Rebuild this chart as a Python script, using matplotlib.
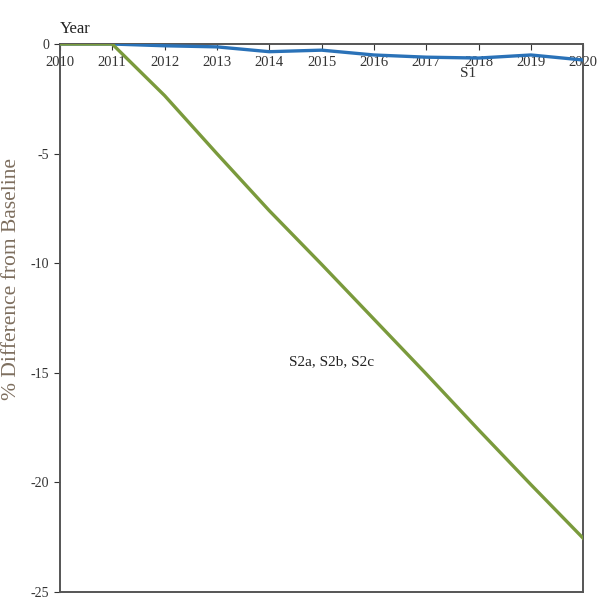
import matplotlib
matplotlib.use("Agg")
import matplotlib.pyplot as plt

years = [2010, 2011, 2012, 2013, 2014, 2015, 2016, 2017, 2018, 2019, 2020]
s1 = [0, 0, -0.08, -0.13, -0.35, -0.28, -0.5, -0.6, -0.64, -0.5, -0.73]
s2 = [0, 0, -2.35, -5.0, -7.6, -10.05, -12.55, -15.05, -17.6, -20.1, -22.55]
yticks = [0, -5, -10, -15, -20, -25]

plt.rcParams['font.family'] = ['Liberation Serif', 'DejaVu Serif']

fig = plt.figure(figsize=(6.05, 6.08), dpi=100)
ax = fig.add_axes([0.099, 0.0263, 0.865, 0.9013])

ax.plot(years, s1, color='#2a72b8', lw=2.4, zorder=3)
ax.plot(years, s2, color='#7a9a3c', lw=2.4, zorder=4)

ax.set_xlim(2010, 2020)
ax.set_ylim(-25, 0)
ax.set_yticks(yticks)
ax.set_yticklabels([str(v) for v in yticks], fontsize=10, color='#333333')
ax.set_xticks(years)
ax.set_xticklabels([str(y) for y in years], fontsize=10.5, color='#333333')
ax.xaxis.set_ticks_position('top')
ax.tick_params(axis='x', direction='in', length=4, pad=-18, color='#333333')
ax.tick_params(axis='y', direction='out', length=4, color='#333333')
for s in ax.spines.values():
    s.set_color('#555555')
    s.set_linewidth(1.4)

ax.set_ylabel('% Difference from Baseline', fontsize=15.5, color='#7d6e5e')
ax.yaxis.set_label_coords(-0.074, 0.571)
fig.text(0.099, 0.952, 'Year', fontsize=12, color='#222222', ha='left', va='center')
ax.text(2017.8, -1.35, 'S1', fontsize=11, color='#333333', ha='center', va='center')
ax.text(2015.2, -14.5, 'S2a, S2b, S2c', fontsize=11, color='#222222', ha='center', va='center')

fig.savefig('out.png', dpi=100)
